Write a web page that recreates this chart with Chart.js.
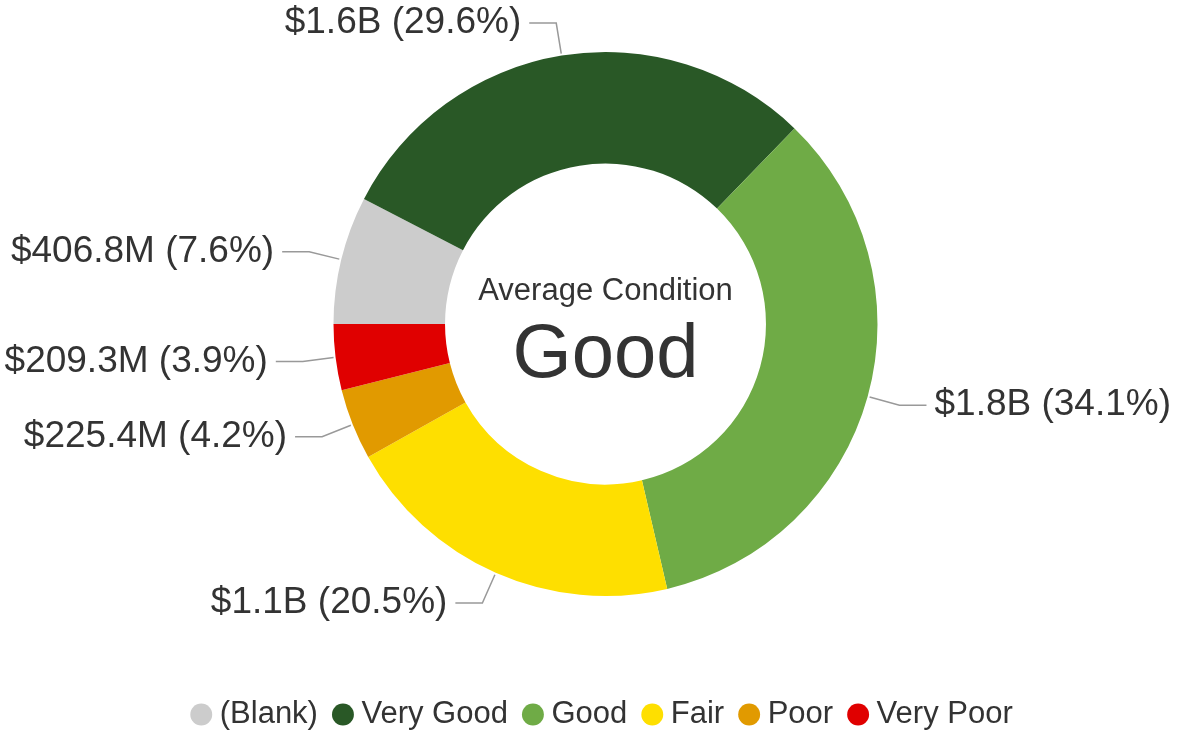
<!DOCTYPE html>
<html lang="en">
<head>
  <meta charset="UTF-8">
  <title>Average Condition</title>
  <style>
    html, body { margin: 0; padding: 0; background: #fff; overflow: hidden; }
    #wrap { width: 1177px; height: 731px; }
  </style>
</head>
<body>

<div id="wrap">
  <canvas id="condition-chart" width="1177" height="731"></canvas>
</div>

<script src="https://cdn.jsdelivr.net/npm/chart.js@4.4.0/dist/chart.umd.min.js"></script>
<script>
  // condition categories, in legend order
  const conditions = ['(Blank)', 'Very Good', 'Good', 'Fair', 'Poor', 'Very Poor'];
  // value per condition, in $M
  const valuesM = [406.8, 1584, 1825, 1097, 225.4, 209.3];
  const sliceColors = ['#cccccc', '#295826', '#6fab46', '#fedf00', '#e19a00', '#e00000'];
  const centerTitle = 'Average Condition';
  const centerValue = 'Good';

  const fontFamily = '"Liberation Sans", Arial, sans-serif';
  const textColor = '#333333';

  function formatMoney(v) {
    if (v >= 1000) return '$' + (v / 1000).toFixed(1) + 'B';
    return '$' + v.toFixed(1) + 'M';
  }

  // outside labels with leader lines
  const leaderLabels = {
    id: 'leaderLabels',
    afterDatasetsDraw(chart) {
      const ctx = chart.ctx;
      const meta = chart.getDatasetMeta(0);
      const total = valuesM.reduce((a, b) => a + b, 0);
      ctx.save();
      ctx.font = '37px ' + fontFamily;
      ctx.fillStyle = textColor;
      ctx.strokeStyle = '#999999';
      ctx.lineWidth = 1.5;
      ctx.textBaseline = 'middle';
      meta.data.forEach(function(arc, i) {
        const p = arc.getProps(['x', 'y', 'startAngle', 'endAngle', 'outerRadius'], true);
        const mid = (p.startAngle + p.endAngle) / 2;
        const cos = Math.cos(mid), sin = Math.sin(mid);
        const x0 = p.x + cos * (p.outerRadius + 2);
        const y0 = p.y + sin * (p.outerRadius + 2);
        const x1 = p.x + cos * (p.outerRadius + 33);
        const y1 = p.y + sin * (p.outerRadius + 33);
        const dir = cos >= 0 ? 1 : -1;
        const x2 = x1 + dir * 27;
        ctx.beginPath();
        ctx.moveTo(x0, y0);
        ctx.lineTo(x1, y1);
        ctx.lineTo(x2, y1);
        ctx.stroke();
        const pct = (valuesM[i] / total * 100).toFixed(1);
        ctx.textAlign = dir > 0 ? 'left' : 'right';
        ctx.fillText(formatMoney(valuesM[i]) + ' (' + pct + '%)', x2 + dir * 8, y1);
      });
      ctx.restore();
    }
  };

  const centerText = {
    id: 'centerText',
    afterDatasetsDraw(chart) {
      const ctx = chart.ctx;
      const arc = chart.getDatasetMeta(0).data[0];
      ctx.save();
      ctx.fillStyle = textColor;
      ctx.textAlign = 'center';
      ctx.textBaseline = 'middle';
      ctx.font = '31px ' + fontFamily;
      ctx.fillText(centerTitle, arc.x, arc.y - 33);
      ctx.font = '76px ' + fontFamily;
      ctx.fillText(centerValue, arc.x, arc.y + 32);
      ctx.restore();
    }
  };

  var ctx1 = document.getElementById('condition-chart').getContext('2d');
  var conditionChart = new Chart(ctx1, {
    type: 'doughnut',
    data: {
      labels: conditions,
      datasets: [{
        data: valuesM,
        backgroundColor: sliceColors,
        borderWidth: 0
      }]
    },
    options: {
      responsive: false,
      animation: false,
      events: [],
      rotation: -90,
      radius: 272,
      cutout: '59%',
      layout: {
        padding: { top: 0, right: 0, bottom: -9, left: 34 }
      },
      plugins: {
        tooltip: { enabled: false },
        legend: {
          position: 'bottom',
          // empty title only reserves room above the legend row
          title: { display: true, text: '', font: { size: 10, lineHeight: 1.2 }, padding: { top: 17, bottom: 0 } },
          labels: {
            usePointStyle: true,
            pointStyle: 'circle',
            boxWidth: 6,
            boxHeight: 15.5,
            padding: 22,
            color: textColor,
            font: { size: 31, family: fontFamily }
          }
        }
      }
    },
    plugins: [leaderLabels, centerText]
  });
</script>

</body>
</html>
